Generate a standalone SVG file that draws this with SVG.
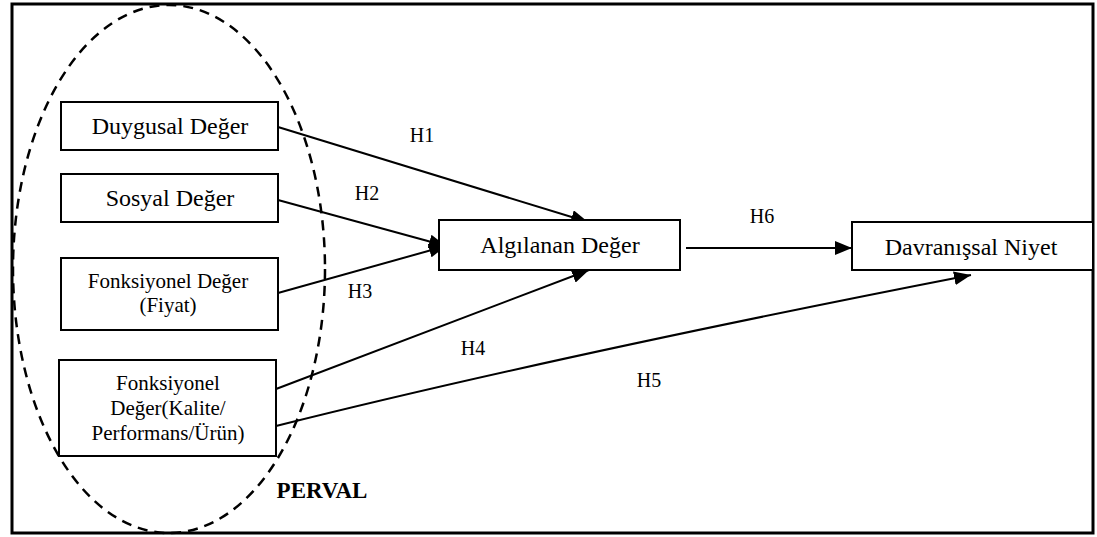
<svg xmlns="http://www.w3.org/2000/svg" width="1097" height="537" viewBox="0 0 1097 537">
  <style>
    .box { fill: #fff; stroke: #000; stroke-width: 2; }
    .lbl { font-family: "Liberation Serif", "Times New Roman", serif; fill: #000; text-anchor: middle; }
    .big { font-size: 24px; }
    .mid { font-size: 21px; }
    .hyp { font-family: "Liberation Serif", "Times New Roman", serif; font-size: 20px; fill: #000; text-anchor: middle; }
    .edge { fill: none; stroke: #000; stroke-width: 2; marker-end: url(#arrow); }
  </style>
  <defs>
    <marker id="arrow" markerUnits="userSpaceOnUse" markerWidth="18" markerHeight="14" refX="17" refY="7" orient="auto">
      <path d="M0,0 L17,7 L0,14 Z" fill="#000"/>
    </marker>
  </defs>

  <rect width="1097" height="537" fill="#fff"/>
  <!-- outer frame -->
  <rect x="12" y="4" width="1081" height="529" fill="none" stroke="#000" stroke-width="3"/>

  <!-- PERVAL grouping -->
  <g id="perval">
    <ellipse cx="169" cy="269" rx="156" ry="264" fill="none" stroke="#000" stroke-width="2.5" stroke-dasharray="10,7"/>
    <text class="lbl" x="322" y="498" font-size="23" font-weight="bold">PERVAL</text>
  </g>

  <!-- connectors -->
  <g id="connectors">
    <path class="edge" d="M278,127 L588,222"/>
    <path class="edge" d="M278,200 L446,246"/>
    <path class="edge" d="M278,293 L446,246"/>
    <path class="edge" d="M276,389 L589,270"/>
    <path class="edge" d="M276,426 Q560,355 971,275"/>
    <path class="edge" d="M686,248 L852,248"/>
    <text class="hyp" x="422" y="142">H1</text>
    <text class="hyp" x="367" y="200">H2</text>
    <text class="hyp" x="360" y="298">H3</text>
    <text class="hyp" x="473" y="355">H4</text>
    <text class="hyp" x="649" y="387">H5</text>
    <text class="hyp" x="762" y="223">H6</text>
  </g>

  <g id="duygusal">
    <rect class="box" x="61" y="102" width="217" height="48"/>
    <text class="lbl big" x="170" y="134">Duygusal Değer</text>
  </g>

  <g id="sosyal">
    <rect class="box" x="61" y="174" width="217" height="48"/>
    <text class="lbl big" x="170" y="206">Sosyal Değer</text>
  </g>

  <g id="fonksiyonel-fiyat">
    <rect class="box" x="61" y="258" width="217" height="72"/>
    <text class="lbl mid" x="168" y="288">Fonksiyonel Değer</text>
    <text class="lbl mid" x="168" y="312">(Fiyat)</text>
  </g>

  <g id="fonksiyonel-kalite">
    <rect class="box" x="59" y="360" width="217" height="96"/>
    <text class="lbl mid" x="168" y="390">Fonksiyonel</text>
    <text class="lbl mid" x="168" y="415">Değer(Kalite/</text>
    <text class="lbl mid" x="168" y="440">Performans/Ürün)</text>
  </g>

  <g id="algilanan">
    <rect class="box" x="439" y="220" width="241" height="50"/>
    <text class="lbl big" x="560" y="253">Algılanan Değer</text>
  </g>

  <g id="davranissal">
    <rect class="box" x="852" y="222" width="241" height="48"/>
    <text class="lbl big" x="971" y="255">Davranışsal Niyet</text>
  </g>
</svg>
